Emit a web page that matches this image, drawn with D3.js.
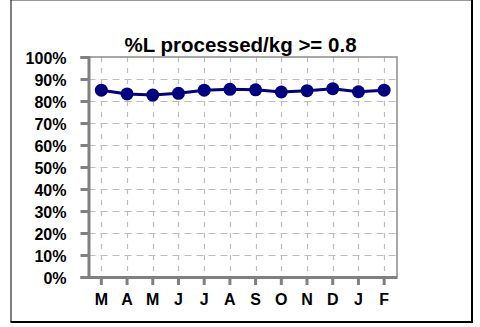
<!DOCTYPE html>
<html>
<head>
<meta charset="utf-8">
<script src="https://cdn.jsdelivr.net/npm/d3@7"></script>
<style>
  html, body { margin: 0; padding: 0; background: #fff; }
  svg { display: block; }
  text { font-family: "Liberation Sans", Arial, sans-serif; font-weight: bold; fill: #000; }
</style>
</head>
<body>
<script>
const categories = ["M", "A", "M", "J", "J", "A", "S", "O", "N", "D", "J", "F"];
const values = [0.849, 0.832, 0.827, 0.835, 0.849, 0.853, 0.851, 0.841, 0.847, 0.856, 0.842, 0.849];
const yTicks = [0, 0.1, 0.2, 0.3, 0.4, 0.5, 0.6, 0.7, 0.8, 0.9, 1.0];
const title = "%L processed/kg >= 0.8";

(function () {
const W = 480, H = 327;
const svg = d3.select("body").append("svg").attr("width", W).attr("height", H);

// outer frame
svg.append("line").attr("x1", 10.5).attr("x2", 472).attr("y1", 0.5).attr("y2", 0.5).attr("stroke", "#999").attr("stroke-width", 1);
svg.append("line").attr("x1", 11).attr("x2", 11).attr("y1", 0).attr("y2", 322).attr("stroke", "#000").attr("stroke-width", 1);
svg.append("line").attr("x1", 472).attr("x2", 472).attr("y1", 0).attr("y2", 323).attr("stroke", "#000").attr("stroke-width", 2);
svg.append("line").attr("x1", 10.5).attr("x2", 473).attr("y1", 322).attr("y2", 322).attr("stroke", "#000").attr("stroke-width", 2);

const pLeft = 88.5, pRight = 397, pTop = 57, pBottom = 277;
const idx = categories.map((c, i) => i);
const x = d3.scaleBand().domain(idx).range([pLeft, pRight]);
const y = d3.scaleLinear().domain([0, 1]).range([pBottom, pTop]);
const cx = i => x(i) + x.bandwidth() / 2;

// gridlines
const grid = svg.append("g");
grid.selectAll("line.h").data(yTicks.slice(1, -1)).join("line")
  .attr("x1", pLeft).attr("x2", pRight)
  .attr("y1", d => Math.round(y(d)) + 0.5).attr("y2", d => Math.round(y(d)) + 0.5)
  .attr("stroke", "#bdbdbd").attr("stroke-width", 1.2).attr("stroke-dasharray", "7,5");
grid.selectAll("line.v").data(idx).join("line")
  .attr("x1", d => Math.round(cx(d)) + 0.5).attr("x2", d => Math.round(cx(d)) + 0.5)
  .attr("y1", pTop).attr("y2", pBottom)
  .attr("stroke", "#bdbdbd").attr("stroke-width", 1.2).attr("stroke-dasharray", "5,6");

// plot area border (top/right)
svg.append("path").attr("d", `M${pLeft},${pTop}H${pRight}V${pBottom}`).attr("fill", "none").attr("stroke", "#8c8c8c").attr("stroke-width", 1.5);

// y axis
const yAxis = d3.axisLeft(y).tickValues(yTicks).tickFormat(d3.format(".0%")).tickSize(8).tickPadding(14);
const gy = svg.append("g").attr("transform", `translate(${pLeft},0)`).call(yAxis);
gy.select(".domain").attr("stroke", "#808080").attr("stroke-width", 3);
gy.selectAll(".tick line").attr("stroke", "#808080").attr("stroke-width", 3);
gy.selectAll(".tick text").style("font-size", "16px").style("font-family", "'Liberation Sans', Arial, sans-serif").style("font-weight", "bold").attr("fill", "#000").attr("dy", "0.38em");

// x axis
const xAxis = d3.axisBottom(x).tickFormat(i => categories[i]).tickSize(8).tickSizeOuter(0).tickPadding(9);
const gx = svg.append("g").attr("transform", `translate(0,${pBottom})`).call(xAxis);
gx.select(".domain").attr("stroke", "#808080").attr("stroke-width", 3);
gx.selectAll(".tick line").attr("stroke", "#808080").attr("stroke-width", 3);
gx.selectAll(".tick text").style("font-size", "16px").style("font-family", "'Liberation Sans', Arial, sans-serif").style("font-weight", "bold").attr("fill", "#000");

// line + markers
const line = d3.line().x((d, i) => cx(i)).y(d => y(d));
svg.append("path").datum(values).attr("d", line).attr("fill", "none").attr("stroke", "#000080").attr("stroke-width", 3);
svg.selectAll("circle.pt").data(values).join("circle")
  .attr("cx", (d, i) => cx(i)).attr("cy", d => y(d)).attr("r", 6.5).attr("fill", "#000080");

// title
svg.append("text").attr("x", 240.5).attr("y", 52).attr("text-anchor", "middle")
  .style("font-size", "20.5px").text(title);
})();
</script>
</body>
</html>
